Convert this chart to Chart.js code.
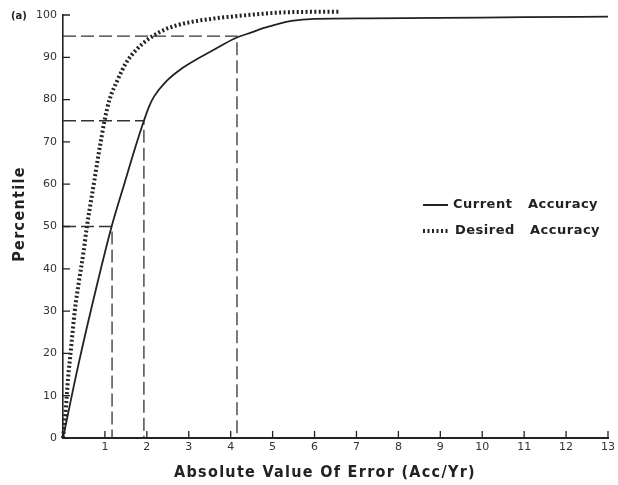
<!DOCTYPE html>
<html lang="en">
<head>
  <meta charset="UTF-8" />
  <title>Percentile vs Absolute Value Of Error</title>
  <script src="https://cdn.jsdelivr.net/npm/chart.js"></script>
  <style>
    html, body {
      margin: 0;
      padding: 0;
      background: #fff;
    }
    canvas {
      display: block;
    }
  </style>
</head>
<body>
  <canvas id="errChart" width="618" height="485"></canvas>

  <script>
    // values
    const currentX = [0, 0.36, 0.83, 1.16, 1.46, 1.74, 1.93, 2.05, 2.17, 2.45, 2.84, 3.2, 3.6, 4.11, 4.5, 4.82, 5.45, 6.0, 7.3, 9, 11, 13];
    const currentY = [0, 17, 37, 50, 60, 69.2, 75, 78.3, 80.7, 84.2, 87.4, 89.6, 91.8, 94.5, 95.9, 97.0, 98.6, 99.1, 99.2, 99.3, 99.5, 99.6];

    const desiredX = [0, 0.06, 0.12, 0.2, 0.28, 0.38, 0.49, 0.57, 0.65, 0.75, 0.83, 0.9, 0.99, 1.11, 1.3, 1.5, 1.74, 2.01, 2.33, 2.73, 3.2, 3.63, 4.42, 5.22, 6.6];
    const desiredY = [0, 6, 14, 22, 30, 37, 44, 50, 55, 61, 66, 70, 75, 80, 84.6, 88.6, 91.7, 94.1, 96.1, 97.6, 98.6, 99.2, 100, 100.6, 100.8];

    // dashed guide lines: percentile -> error of the current curve
    const refPercentiles = [50, 75, 95];
    const refErrors = [1.17, 1.93, 4.15];

    const seriesNames = ['Current Accuracy', 'Desired Accuracy'];
    const xTitle = 'Absolute Value Of Error (Acc/Yr)';
    const yTitle = 'Percentile';
    const panelTag = '(a)';

    const ink = '#222';
    const titleFont = 'bold 16px "DejaVu Sans Condensed"';

    const toPoints = (xs, ys) => xs.map((x, i) => ({ x: x, y: ys[i] }));

    const guideSets = refPercentiles.map((p, i) => ({
      label: 'guide' + p,
      data: [{ x: 0, y: p }, { x: refErrors[i], y: p }, { x: refErrors[i], y: 0 }],
      borderColor: '#333',
      borderWidth: 1.3,
      borderDash: [13, 5],
      pointRadius: 0,
      tension: 0
    }));

    // tick marks pointing into the plot
    const inwardTicks = {
      id: 'inwardTicks',
      afterDatasetsDraw(chart) {
        const { ctx, chartArea } = chart;
        const xs = chart.scales.x, ys = chart.scales.y;
        ctx.save();
        ctx.strokeStyle = ink;
        ctx.lineWidth = 1.3;
        ctx.beginPath();
        xs.ticks.forEach(t => {
          if (t.value === 0) return;
          const px = xs.getPixelForValue(t.value);
          ctx.moveTo(px, chartArea.bottom);
          ctx.lineTo(px, chartArea.bottom - 7);
        });
        ys.ticks.forEach(t => {
          if (t.value === 0) return;
          const py = ys.getPixelForValue(t.value);
          ctx.moveTo(chartArea.left, py);
          ctx.lineTo(chartArea.left + 7, py);
        });
        ctx.stroke();
        ctx.restore();
      }
    };

    // spaced-out lettering for the axis titles, legend and panel tag
    const lettering = {
      id: 'lettering',
      afterDraw(chart) {
        const ctx = chart.ctx;
        ctx.save();
        ctx.fillStyle = ink;
        ctx.textBaseline = 'middle';
        ctx.textAlign = 'center';

        ctx.font = titleFont;
        ctx.letterSpacing = '1.3px';
        ctx.fillText(xTitle, 325, 473);
        ctx.save();
        ctx.translate(20, 214);
        ctx.rotate(-Math.PI / 2);
        ctx.fillText(yTitle, 0, 0);
        ctx.restore();

        ctx.textAlign = 'left';
        ctx.font = 'bold 13px "DejaVu Sans"';
        ctx.letterSpacing = '0.5px';
        const rows = [205, 231];
        // solid sample
        ctx.strokeStyle = ink;
        ctx.lineWidth = 2;
        ctx.beginPath();
        ctx.moveTo(423, rows[0]);
        ctx.lineTo(448, rows[0]);
        ctx.stroke();
        // dotted sample
        ctx.lineWidth = 4;
        ctx.setLineDash([2, 2.5]);
        ctx.beginPath();
        ctx.moveTo(423, rows[1]);
        ctx.lineTo(450, rows[1]);
        ctx.stroke();
        ctx.setLineDash([]);

        seriesNames.forEach((name, i) => {
          const words = name.split(' ');
          ctx.fillText(words[0], i === 0 ? 453 : 455, rows[i]);
          ctx.fillText(words[1], i === 0 ? 528 : 530, rows[i]);
        });

        ctx.letterSpacing = '0px';
        ctx.font = 'bold 10px "DejaVu Sans"';
        ctx.fillText(panelTag, 11, 16);
        ctx.restore();
      }
    };

    new Chart(document.getElementById('errChart'), {
      type: 'line',
      data: {
        datasets: [
          {
            label: seriesNames[0],
            data: toPoints(currentX, currentY),
            borderColor: ink,
            borderWidth: 1.8,
            pointRadius: 0,
            cubicInterpolationMode: 'monotone'
          },
          {
            label: seriesNames[1],
            data: toPoints(desiredX, desiredY),
            borderColor: ink,
            borderWidth: 4,
            borderDash: [2, 2.4],
            borderCapStyle: 'butt',
            pointRadius: 0,
            cubicInterpolationMode: 'monotone',
            clip: false
          },
          ...guideSets
        ]
      },
      options: {
        responsive: false,
        animation: false,
        layout: { padding: { top: 15, right: 6, left: 0, bottom: 0 } },
        plugins: {
          legend: { display: false },
          tooltip: { enabled: false }
        },
        scales: {
          x: {
            type: 'linear',
            min: 0,
            max: 13,
            grid: { display: false, drawTicks: false },
            border: { color: ink, width: 2 },
            afterFit: s => { s.height = 47; },
            ticks: {
              stepSize: 1,
              padding: 3,
              color: '#333',
              font: { family: 'DejaVu Sans', size: 11 },
              maxRotation: 0,
              callback: v => (v === 0 ? '' : v)
            }
          },
          y: {
            min: 0,
            max: 100,
            grid: { display: false, drawTicks: false },
            border: { color: ink, width: 1.6 },
            afterFit: s => { s.width = 63; },
            ticks: {
              stepSize: 10,
              padding: 6,
              color: '#333',
              font: { family: 'DejaVu Sans', size: 11 }
            }
          }
        }
      },
      plugins: [inwardTicks, lettering]
    });
  </script>
</body>
</html>
